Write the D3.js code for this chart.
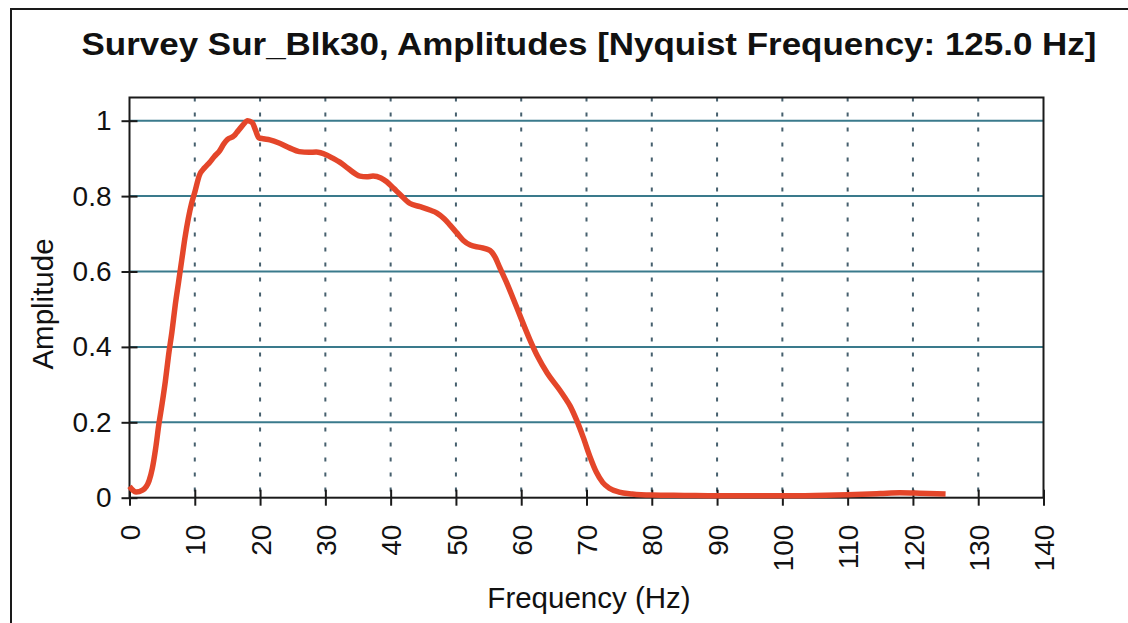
<!DOCTYPE html>
<html>
<head>
<meta charset="utf-8">
<script src="https://cdn.jsdelivr.net/npm/d3@7"></script>
<style>
  html, body { margin: 0; padding: 0; background: #fff; }
  svg { display: block; font-family: "Liberation Sans", Arial, Helvetica, sans-serif; }
</style>
</head>
<body>
<svg id="chart" width="1128" height="623"></svg>
<script>
// Amplitude spectrum of survey Sur_Blk30
const title = "Survey Sur_Blk30, Amplitudes [Nyquist Frequency: 125.0 Hz]";
const xLabel = "Frequency (Hz)";
const yLabel = "Amplitude";

const xTicks = [0, 10, 20, 30, 40, 50, 60, 70, 80, 90, 100, 110, 120, 130, 140];
const yTicks = [0, 0.2, 0.4, 0.6, 0.8, 1];
const yTickLabels = ["0", "0.2", "0.4", "0.6", "0.8", "1"];

const freq = [0, 0.5, 1, 2, 3, 3.5, 4, 4.5, 5, 5.5, 6, 6.5, 7, 7.5, 8, 8.5, 9, 9.5, 10,
  10.7, 11.5, 12.3, 13, 13.8, 14.5, 15, 16, 16.4, 17.2, 18.1, 18.8, 19.3, 19.8, 20.5,
  21.5, 23, 24.5, 26, 27.5, 28.6, 30.2, 31.2, 32.2, 33.5, 35.3, 36.3, 37.3, 38.5, 39.4,
  40.5, 41.4, 42.9, 44.5, 46, 47.1, 48.2, 49.1, 50.1, 51.1, 52.2, 53.7, 55.2, 56, 56.7,
  57.7, 58.7, 60, 61.3, 62.5, 64, 66, 66.7, 67.5, 68.5, 69.5, 70.5, 71.5, 72.5, 73.5,
  75, 77, 80, 85, 90, 100, 105, 110, 115, 118, 121, 125];
const amp = [0.03, 0.02, 0.015, 0.02, 0.045, 0.078, 0.13, 0.195, 0.25, 0.31, 0.38, 0.44,
  0.51, 0.57, 0.63, 0.69, 0.74, 0.78, 0.81, 0.855, 0.875, 0.89, 0.905, 0.92, 0.94, 0.95,
  0.96, 0.968, 0.985, 1.0, 0.995, 0.975, 0.955, 0.952, 0.949, 0.94, 0.928, 0.918, 0.916,
  0.917, 0.909, 0.9, 0.89, 0.873, 0.853, 0.851, 0.853, 0.848, 0.838, 0.82, 0.805, 0.781,
  0.772, 0.763, 0.755, 0.74, 0.723, 0.703, 0.683, 0.67, 0.664, 0.656, 0.638, 0.611,
  0.573, 0.531, 0.475, 0.42, 0.375, 0.33, 0.283, 0.265, 0.243, 0.205, 0.16, 0.11, 0.068,
  0.04, 0.025, 0.015, 0.01, 0.007, 0.006, 0.005, 0.005, 0.006, 0.008, 0.011, 0.013,
  0.012, 0.01];

const svg = d3.select("#chart");

// outer frame (left and top edges)
svg.append("path")
  .attr("d", "M11,640 L11,9 L1140,9")
  .attr("fill", "none").attr("stroke", "#1a1a1a").attr("stroke-width", 2);

// title
svg.append("text")
  .attr("x", 589).attr("y", 55)
  .attr("text-anchor", "middle")
  .attr("font-weight", "bold")
  .attr("font-size", 32)
  .attr("textLength", 1015)
  .attr("lengthAdjust", "spacingAndGlyphs")
  .attr("fill", "#111")
  .text(title);

const plot = { left: 129.5, right: 1043.5, top: 97.5, bottom: 497.7 };
const x = d3.scaleLinear().domain([0, 140]).range([plot.left, plot.right]);
const y = d3.scaleLinear().domain([0, 1]).range([plot.bottom, 120.7]);

const g = svg.append("g");

// horizontal grid
g.append("g").selectAll("line")
  .data(yTicks.filter(d => d > 0))
  .join("line")
  .attr("x1", plot.left).attr("x2", plot.right)
  .attr("y1", d => y(d)).attr("y2", d => y(d))
  .attr("stroke", "#3a7a8c").attr("stroke-width", 2);

// vertical dashed grid
g.append("g").selectAll("line")
  .data(xTicks.filter(d => d > 0 && d < 140))
  .join("line")
  .attr("x1", d => x(d)).attr("x2", d => x(d))
  .attr("y1", plot.top).attr("y2", plot.bottom)
  .attr("stroke", "#46606e").attr("stroke-width", 2)
  .attr("stroke-dasharray", "4,11");

// plot frame
g.append("rect")
  .attr("x", plot.left).attr("y", plot.top)
  .attr("width", plot.right - plot.left).attr("height", plot.bottom - plot.top)
  .attr("fill", "none").attr("stroke", "#1a1a1a").attr("stroke-width", 2);

// y axis with ticks crossing the axis line
const yAxis = d3.axisLeft(y).tickValues(yTicks)
  .tickFormat((d, i) => yTickLabels[i]).tickSize(8).tickPadding(10);
const ya = g.append("g").attr("transform", `translate(${plot.left},0)`).call(yAxis);
ya.select(".domain").remove();
ya.selectAll(".tick line").attr("x1", 8).attr("x2", -8)
  .attr("stroke", "#1a1a1a").attr("stroke-width", 2);
ya.selectAll(".tick text")
  .attr("font-size", 28).attr("fill", "#111")
  .attr("font-family", "'Liberation Sans', Arial, sans-serif");

// x axis with rotated labels
const xAxis = d3.axisBottom(x).tickValues(xTicks).tickSize(8).tickPadding(0);
const xa = g.append("g").attr("transform", `translate(0,${plot.bottom})`).call(xAxis);
xa.select(".domain").remove();
xa.selectAll(".tick line").attr("y1", -8).attr("y2", 8)
  .attr("stroke", "#1a1a1a").attr("stroke-width", 2);
xa.selectAll(".tick text")
  .attr("font-size", 28).attr("fill", "#111")
  .attr("font-family", "'Liberation Sans', Arial, sans-serif")
  .attr("text-anchor", "end")
  .attr("transform", "translate(0,27) rotate(-90)")
  .attr("x", 0).attr("y", 0).attr("dy", "0.36em");

// axis titles
svg.append("text")
  .attr("x", 589).attr("y", 608)
  .attr("text-anchor", "middle").attr("font-size", 29.5).attr("fill", "#111")
  .text(xLabel);
svg.append("text")
  .attr("transform", "translate(53,304) rotate(-90)")
  .attr("text-anchor", "middle").attr("font-size", 29.5).attr("fill", "#111")
  .text(yLabel);

// spectrum curve
const pts = freq.map((f, i) => [f, amp[i]]);
const line = d3.line().x(d => x(d[0])).y(d => y(d[1])).curve(d3.curveMonotoneX);
g.append("path")
  .datum(pts)
  .attr("d", line)
  .attr("fill", "none")
  .attr("stroke", "#e4462a")
  .attr("stroke-width", 5.5)
  .attr("stroke-linejoin", "round")
  .attr("stroke-linecap", "butt");
</script>
</body>
</html>
